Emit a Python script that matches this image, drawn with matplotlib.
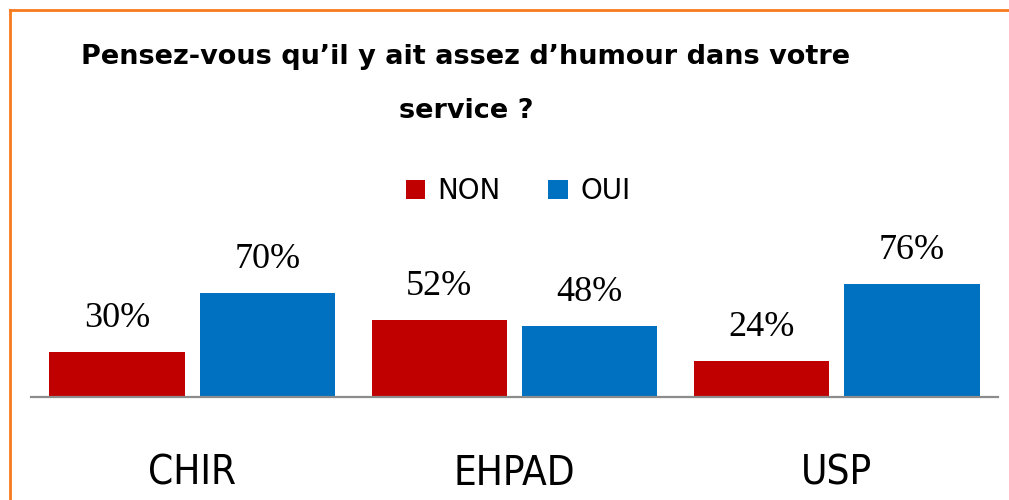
import matplotlib
matplotlib.use("Agg")
import matplotlib.pyplot as plt
from matplotlib.lines import Line2D
import numpy as np

categories = ["CHIR", "EHPAD", "USP"]
series_names = ["NON", "OUI"]
non_values = [30, 52, 24]
oui_values = [70, 48, 76]
title_text = "Pensez-vous qu’il y ait assez d’humour dans votre\nservice ?"

colors = {"NON": "#C00000", "OUI": "#0070C0"}

fig = plt.figure(figsize=(10.09, 5.00), dpi=100)
fig.patch.set_facecolor("white")

ax = fig.add_axes([31 / 1009, 103 / 500, 967 / 1009, 148.7 / 500])
x = np.arange(len(categories))
w = 0.42
off = 0.233
b1 = ax.bar(x - off, non_values, w, color=colors["NON"], label="NON")
b2 = ax.bar(x + off, oui_values, w, color=colors["OUI"], label="OUI")

for bars, vals in ((b1, non_values), (b2, oui_values)):
    for rect, v in zip(bars, vals):
        ax.annotate(f"{v}%", (rect.get_x() + rect.get_width() / 2, rect.get_height()),
                    xytext=(0, 18), textcoords="offset points",
                    ha="center", va="baseline", fontsize=26,
                    family="Liberation Serif", color="black")

ax.set_xlim(-0.5, 2.5)
ax.set_ylim(0, 100)
ax.set_yticks([])
for s in ("left", "right", "top"):
    ax.spines[s].set_visible(False)
ax.spines["bottom"].set_color("#8C8C8C")
ax.spines["bottom"].set_linewidth(1.6)
ax.set_xticks(x)
ax.set_xticklabels(categories, fontsize=29, fontstretch="condensed")
ax.tick_params(axis="x", length=0, pad=41)
ax.set_facecolor("none")

leg = fig.legend(handles=[b1, b2], labels=series_names, loc="center",
                 bbox_to_anchor=(518 / 1009, 1 - 191 / 500), ncol=2, frameon=False,
                 fontsize=20, handlelength=0.7, handleheight=0.7,
                 handletextpad=0.45, columnspacing=1.7)

fig.text(466 / 1009, 1 - 84 / 500, title_text, ha="center", va="center",
         multialignment="center", fontsize=19.5, fontweight="bold",
         linespacing=2.45, color="black")

border = "#F87A1E"
fig.add_artist(Line2D([10 / 1009, 1.0], [1 - 9.5 / 500, 1 - 9.5 / 500],
                      transform=fig.transFigure, color=border, lw=2))
fig.add_artist(Line2D([10 / 1009, 10 / 1009], [0, 1 - 9.5 / 500],
                      transform=fig.transFigure, color=border, lw=2))

fig.savefig("out.png", dpi=100, facecolor="white")
